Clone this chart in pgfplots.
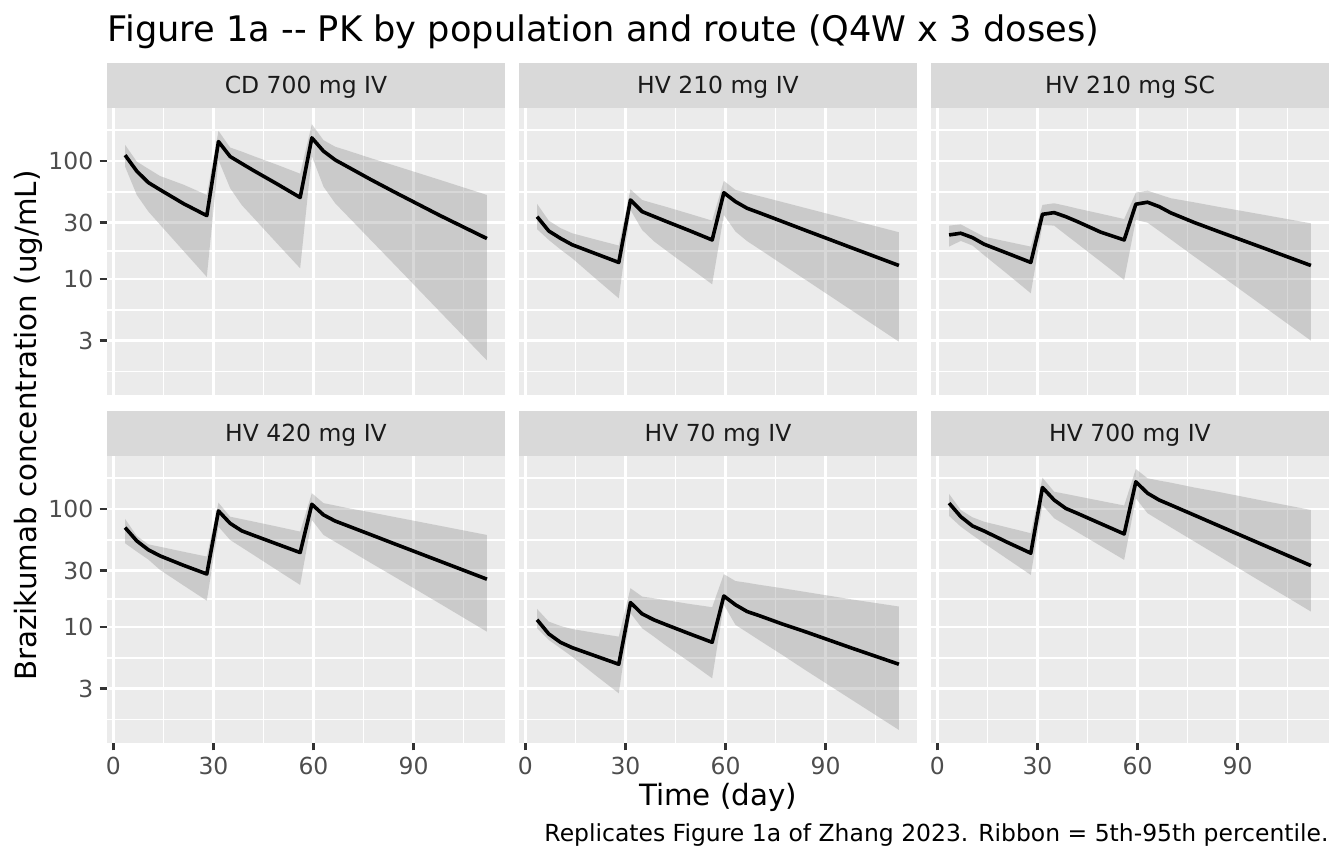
\documentclass[border=0pt]{standalone}
\usepackage{pgfplots}
\pgfplotsset{compat=1.18}
\usepackage{fontspec}
\setmainfont{DejaVu Sans}
\definecolor{panelbg}{HTML}{EBEBEB}
\definecolor{stripbg}{HTML}{D9D9D9}
\definecolor{ticklab}{HTML}{4D4D4D}
\definecolor{tickc}{HTML}{333333}
\definecolor{striptxt}{HTML}{1A1A1A}
\begin{document}
\begin{tikzpicture}
\path[use as bounding box] (0,0) rectangle (504pt,324pt);
% ---------------- CD 700 mg IV
\begin{axis}[
    at={(40.125pt,175.875pt)}, anchor=south west,
    scale only axis, width=149.25pt, height=107.625pt,
    ymode=log, ymin=1.039, ymax=281, xmin=-1.925, xmax=117.425,
    axis background/.style={fill=panelbg}, axis line style={draw=none},
    xtick={0,30,60,90}, minor xtick={15,45,75,105},
    ytick={3,10,30,100}, minor ytick={1.643,5.477,17.32,54.77,182.6},
    grid=both, major grid style={draw=white, line width=1.07pt}, minor grid style={draw=white, line width=0.53pt},
    tick align=outside, tick pos=left, major tick length=2.75pt, minor tick length=0pt,
    tick style={draw=tickc, line width=1.07pt},
    tick label style={font=\fontsize{8.8}{10}\selectfont, text=ticklab, inner sep=2.2pt},
    xmajorticks=false, yticklabels={3,10,30,100},
  ]
  \addplot[draw=none, fill=black!50, fill opacity=0.3] coordinates {
    (3.5,89.5) (7,51.5) (10.5,37.2) (14,28.8) (21,17.3) (28,10.4)
    (31.5,102) (35,58.8) (38.5,42.2) (42,33) (49,20.1) (56,12.3)
    (59.5,110) (63,60.5) (66.5,43.8) (70,34.6) (77,21.6) (84,13.5) (98,5.24) (112,2.04)
    (112,51.5) (98,69) (84,92) (77,106) (70,123) (66.5,132) (63,150) (59.5,205)
    (56,78) (49,93) (42,110) (38.5,120) (35,130) (31.5,180)
    (28,51.5) (21,63) (14,74.5) (10.5,85.7) (7,98.7) (3.5,137) };
  \addplot[black, line width=1.35pt, line join=round] coordinates {
    (3.5,112) (7,82) (10.5,65.5) (14,57) (21,43.5) (28,34.4)
    (31.5,146) (35,109) (38.5,95) (42,83) (49,64) (56,49)
    (59.5,157) (63,121) (66.5,102) (70,90) (77,70) (84,55) (98,34.4) (112,22) };
\end{axis}
% ---------------- HV 210 mg IV
\begin{axis}[
    at={(194.625pt,175.875pt)}, anchor=south west,
    scale only axis, width=149.25pt, height=107.625pt,
    ymode=log, ymin=1.039, ymax=281, xmin=-1.925, xmax=117.425,
    axis background/.style={fill=panelbg}, axis line style={draw=none},
    xtick={0,30,60,90}, minor xtick={15,45,75,105},
    ytick={3,10,30,100}, minor ytick={1.643,5.477,17.32,54.77,182.6},
    grid=both, major grid style={draw=white, line width=1.07pt}, minor grid style={draw=white, line width=0.53pt},
    tick align=outside, tick pos=left, major tick length=2.75pt, minor tick length=0pt,
    tick style={draw=tickc, line width=1.07pt},
    tick label style={font=\fontsize{8.8}{10}\selectfont, text=ticklab, inner sep=2.2pt},
    xmajorticks=false, ymajorticks=false,
  ]
  \addplot[draw=none, fill=black!50, fill opacity=0.3] coordinates {
    (3.5,26.4) (7,21.4) (10.5,17.8) (14,15.0) (21,10.1) (28,6.85)
    (31.5,38.5) (35,26) (38.5,20.9) (42,17.6) (49,12.6) (56,9.0)
    (59.5,34.9) (63,25.2) (66.5,20.9) (70,18.0) (77,13.3) (84,9.84) (98,5.38) (112,2.94)
    (112,24.9) (98,31.5) (84,39.9) (77,44.9) (70,50.5) (66.5,53.4) (63,56.8) (59.5,67.8)
    (56,31.2) (49,35.8) (42,41) (38.5,43.7) (35,46.7) (31.5,57.5)
    (28,19.2) (21,21.6) (14,24.4) (10.5,27) (7,31.2) (3.5,43.3) };
  \addplot[black, line width=1.35pt, line join=round] coordinates {
    (3.5,33.7) (7,25.5) (10.5,22.1) (14,19.5) (21,16.4) (28,13.8)
    (31.5,46.7) (35,37.2) (38.5,33.9) (42,30.9) (49,25.8) (56,21.4)
    (59.5,53.8) (63,45.2) (66.5,39.7) (70,36.5) (77,30.7) (84,25.8) (98,18.3) (112,13.0) };
\end{axis}
% ---------------- HV 210 mg SC
\begin{axis}[
    at={(349.125pt,175.875pt)}, anchor=south west,
    scale only axis, width=149.25pt, height=107.625pt,
    ymode=log, ymin=1.039, ymax=281, xmin=-1.925, xmax=117.425,
    axis background/.style={fill=panelbg}, axis line style={draw=none},
    xtick={0,30,60,90}, minor xtick={15,45,75,105},
    ytick={3,10,30,100}, minor ytick={1.643,5.477,17.32,54.77,182.6},
    grid=both, major grid style={draw=white, line width=1.07pt}, minor grid style={draw=white, line width=0.53pt},
    tick align=outside, tick pos=left, major tick length=2.75pt, minor tick length=0pt,
    tick style={draw=tickc, line width=1.07pt},
    tick label style={font=\fontsize{8.8}{10}\selectfont, text=ticklab, inner sep=2.2pt},
    xmajorticks=false, ymajorticks=false,
  ]
  \addplot[draw=none, fill=black!50, fill opacity=0.3] coordinates {
    (3.5,18.8) (7,21) (10.5,19.2) (14,15.9) (21,11.0) (28,7.56)
    (31.5,28.7) (35,28.3) (38.5,23.7) (42,19.9) (49,14.0) (56,9.8)
    (59.5,31.6) (63,30) (66.5,25.5) (70,21.6) (77,15.5) (84,11.2) (98,5.8) (112,3.0)
    (112,29.6) (98,34.9) (84,41) (77,44.6) (70,48.3) (66.5,52) (63,56) (59.5,53.8)
    (56,32.2) (49,35.7) (42,39.5) (38.5,41.7) (35,43.8) (31.5,42.4)
    (28,18.8) (21,20.7) (14,22.8) (10.5,25.7) (7,29) (3.5,28.3) };
  \addplot[black, line width=1.35pt, line join=round] coordinates {
    (3.5,23.6) (7,24.4) (10.5,22.4) (14,19.7) (21,16.5) (28,13.8)
    (31.5,35.3) (35,36.5) (38.5,33.7) (42,30.6) (49,24.9) (56,21.4)
    (59.5,43) (63,44.7) (66.5,41) (70,36.3) (77,30.1) (84,25.4) (98,18.2) (112,13.0) };
\end{axis}
% ---------------- HV 420 mg IV
\begin{axis}[
    at={(40.125pt,45.375pt)}, anchor=south west,
    scale only axis, width=149.25pt, height=107.625pt,
    ymode=log, ymin=1.039, ymax=281, xmin=-1.925, xmax=117.425,
    axis background/.style={fill=panelbg}, axis line style={draw=none},
    xtick={0,30,60,90}, minor xtick={15,45,75,105},
    ytick={3,10,30,100}, minor ytick={1.643,5.477,17.32,54.77,182.6},
    grid=both, major grid style={draw=white, line width=1.07pt}, minor grid style={draw=white, line width=0.53pt},
    tick align=outside, tick pos=left, major tick length=2.75pt, minor tick length=0pt,
    tick style={draw=tickc, line width=1.07pt},
    tick label style={font=\fontsize{8.8}{10}\selectfont, text=ticklab, inner sep=2.2pt},
    xticklabels={0,30,60,90}, yticklabels={3,10,30,100},
  ]
  \addplot[draw=none, fill=black!50, fill opacity=0.3] coordinates {
    (3.5,51.2) (7,43.5) (10.5,37.2) (14,30.4) (21,22.5) (28,16.7)
    (31.5,70.8) (35,54.6) (38.5,47.2) (42,40.8) (49,30.4) (56,22.7)
    (59.5,80.7) (63,60.2) (66.5,52.6) (70,46) (77,35.1) (84,26.9) (98,15.7) (112,9.12)
    (112,60.2) (98,71.9) (84,85.8) (77,93.8) (70,102) (66.5,107) (63,112) (59.5,136)
    (56,64.3) (49,71) (42,78.2) (38.5,82) (35,86) (31.5,113)
    (28,39.5) (21,43.4) (14,47.8) (10.5,50.1) (7,59) (3.5,82.3) };
  \addplot[black, line width=1.35pt, line join=round] coordinates {
    (3.5,69.5) (7,53.6) (10.5,45) (14,40) (21,33.3) (28,28.1)
    (31.5,96.2) (35,75.5) (38.5,65.2) (42,59.8) (49,50.5) (56,42.7)
    (59.5,109.6) (63,89) (66.5,79) (70,72.4) (77,60.8) (84,51) (98,36) (112,25.4) };
\end{axis}
% ---------------- HV 70 mg IV
\begin{axis}[
    at={(194.625pt,45.375pt)}, anchor=south west,
    scale only axis, width=149.25pt, height=107.625pt,
    ymode=log, ymin=1.039, ymax=281, xmin=-1.925, xmax=117.425,
    axis background/.style={fill=panelbg}, axis line style={draw=none},
    xtick={0,30,60,90}, minor xtick={15,45,75,105},
    ytick={3,10,30,100}, minor ytick={1.643,5.477,17.32,54.77,182.6},
    grid=both, major grid style={draw=white, line width=1.07pt}, minor grid style={draw=white, line width=0.53pt},
    tick align=outside, tick pos=left, major tick length=2.75pt, minor tick length=0pt,
    tick style={draw=tickc, line width=1.07pt},
    tick label style={font=\fontsize{8.8}{10}\selectfont, text=ticklab, inner sep=2.2pt},
    xticklabels={0,30,60,90}, ymajorticks=false,
  ]
  \addplot[draw=none, fill=black!50, fill opacity=0.3] coordinates {
    (3.5,9.75) (7,7.76) (10.5,6.6) (14,5.6) (21,3.9) (28,2.74)
    (31.5,13.1) (35,9.75) (38.5,8.3) (42,7.0) (49,5.1) (56,3.67)
    (59.5,15.4) (63,10.4) (66.5,9.0) (70,7.76) (77,5.8) (84,4.3) (98,2.4) (112,1.34)
    (112,14.9) (98,17.1) (84,19.8) (77,21.3) (70,22.8) (66.5,23.7) (63,24.5) (59.5,28)
    (56,14.7) (49,15.7) (42,16.9) (38.5,17.5) (35,18.1) (31.5,21.3)
    (28,8.28) (21,8.9) (14,9.6) (10.5,10.2) (7,11.1) (3.5,14.2) };
  \addplot[black, line width=1.35pt, line join=round] coordinates {
    (3.5,11.5) (7,8.73) (10.5,7.41) (14,6.68) (21,5.68) (28,4.83)
    (31.5,16.1) (35,12.9) (38.5,11.5) (42,10.5) (49,8.8) (56,7.41)
    (59.5,18.3) (63,15.4) (66.5,13.5) (70,12.5) (77,10.6) (84,9.1) (98,6.6) (112,4.83) };
\end{axis}
% ---------------- HV 700 mg IV
\begin{axis}[
    at={(349.125pt,45.375pt)}, anchor=south west,
    scale only axis, width=149.25pt, height=107.625pt,
    ymode=log, ymin=1.039, ymax=281, xmin=-1.925, xmax=117.425,
    axis background/.style={fill=panelbg}, axis line style={draw=none},
    xtick={0,30,60,90}, minor xtick={15,45,75,105},
    ytick={3,10,30,100}, minor ytick={1.643,5.477,17.32,54.77,182.6},
    grid=both, major grid style={draw=white, line width=1.07pt}, minor grid style={draw=white, line width=0.53pt},
    tick align=outside, tick pos=left, major tick length=2.75pt, minor tick length=0pt,
    tick style={draw=tickc, line width=1.07pt},
    tick label style={font=\fontsize{8.8}{10}\selectfont, text=ticklab, inner sep=2.2pt},
    xticklabels={0,30,60,90}, ymajorticks=false,
  ]
  \addplot[draw=none, fill=black!50, fill opacity=0.3] coordinates {
    (3.5,87.3) (7,70.8) (10.5,60) (14,51.2) (21,37.6) (28,27.6)
    (31.5,108) (35,83.4) (38.5,72.8) (42,63.5) (49,48.5) (56,37)
    (59.5,123) (63,92) (66.5,80.1) (70,69.8) (77,53.1) (84,40.4) (98,23.3) (112,13.5)
    (112,98) (98,117) (84,140) (77,152) (70,167) (66.5,174) (63,182) (59.5,218)
    (56,107) (49,117) (42,128) (38.5,134) (35,140) (31.5,184)
    (28,62.3) (21,69.7) (14,78) (10.5,85) (7,98) (3.5,134) };
  \addplot[black, line width=1.35pt, line join=round] coordinates {
    (3.5,112) (7,86) (10.5,71.8) (14,65) (21,52.1) (28,42.2)
    (31.5,152) (35,119) (38.5,101) (42,91.7) (49,75) (56,61.4)
    (59.5,170) (63,136) (66.5,119) (70,108) (77,88.7) (84,72.8) (98,49.1) (112,33.1) };
\end{axis}
% ---------------- strips
\fill[stripbg] (40.125pt,283.5pt) rectangle (189.375pt,300.375pt);
\fill[stripbg] (194.625pt,283.5pt) rectangle (343.875pt,300.375pt);
\fill[stripbg] (349.125pt,283.5pt) rectangle (498.375pt,300.375pt);
\fill[stripbg] (40.125pt,153pt) rectangle (189.375pt,169.875pt);
\fill[stripbg] (194.625pt,153pt) rectangle (343.875pt,169.875pt);
\fill[stripbg] (349.125pt,153pt) rectangle (498.375pt,169.875pt);
\begin{scope}[every node/.style={font=\fontsize{8.8}{10}\selectfont, text=striptxt, anchor=base, inner sep=0pt}]
\node at (114.75pt,289pt) {CD 700 mg IV};
\node at (269.25pt,289pt) {HV 210 mg IV};
\node at (423.75pt,289pt) {HV 210 mg SC};
\node at (114.75pt,158.5pt) {HV 420 mg IV};
\node at (269.25pt,158.5pt) {HV 70 mg IV};
\node at (423.75pt,158.5pt) {HV 700 mg IV};
\end{scope}
% ---------------- titles
\node[anchor=base west, inner sep=0pt, font=\fontsize{13.2}{15}\selectfont] at (40.125pt,308.4pt) {Figure 1a -{}- PK by population and route (Q4W x 3 doses)};
\node[anchor=center, inner sep=0pt, rotate=90, font=\fontsize{11}{13}\selectfont] at (10.5pt,164.4pt) {Brazikumab concentration (ug/mL)};
\node[anchor=base, inner sep=0pt, font=\fontsize{11}{13}\selectfont] at (269.25pt,22.1pt) {Time (day)};
\node[anchor=base east, inner sep=0pt, font=\fontsize{8.8}{10}\selectfont] at (498.375pt,8.6pt) {Replicates Figure 1a of Zhang 2023. Ribbon = 5th-95th percentile.};
\end{tikzpicture}
\end{document}
